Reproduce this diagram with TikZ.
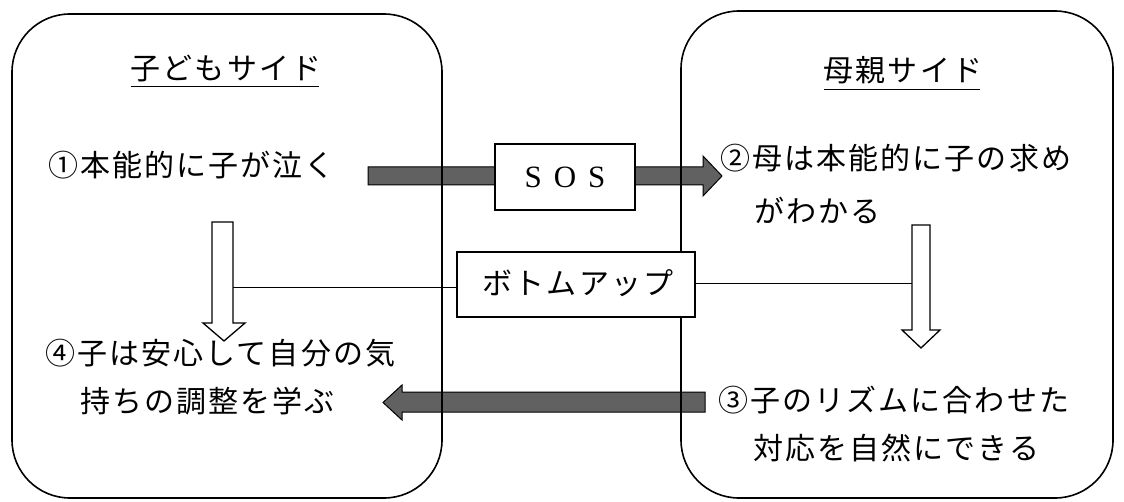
\documentclass[tikz,border=0pt]{standalone}
\usepackage{fontspec}
\newfontfamily\jp[LetterSpace=7]{Noto Sans CJK JP}
\newfontfamily\lat{Liberation Serif}
\tikzset{
  jp/.style={font=\jp\fontsize{30}{34}\selectfont, inner sep=0pt, text height=26.4pt, text depth=3.6pt},
  bigbox/.style={draw, line width=1.6pt, rounded corners=58pt, inner sep=0pt},
  labbox/.style={draw, line width=1.2pt, fill=white, inner sep=0pt},
  fatarrow/.style={draw, line width=1pt, fill=black!62},
  hollowarrow/.style={draw, line width=1.3pt, fill=white},
  thinline/.style={line width=0.9pt}
}
\begin{document}
\begin{tikzpicture}[x=1pt,y=-1pt]
\useasboundingbox (0,0) rectangle (1124,502);
% fat arrows (behind)
\draw[fatarrow] (368,167) -- (703,167) -- (703,156) -- (722,176) -- (703,196) -- (703,185) -- (368,185) -- cycle;
\draw[fatarrow] (705,392) -- (402,392) -- (402,385) -- (383,402.5) -- (402,420) -- (402,412) -- (705,412) -- cycle;
% big rounded boxes
\node[bigbox, minimum width=430pt, minimum height=484pt] (L) at (227,256) {};
\node[bigbox, minimum width=432pt, minimum height=487pt] (R) at (897,254.5) {};
% hollow arrows
\draw[hollowarrow] (212,222) -- (233,222) -- (233,323) -- (245,323) -- (224,341) -- (203,323) -- (212,323) -- cycle;
\draw[hollowarrow] (912,225) -- (930,225) -- (930,330) -- (940,330) -- (921,348) -- (902,330) -- (912,330) -- cycle;
\coordinate (la) at (233,287);
\coordinate (ra) at (912,283);
% label boxes
\node[labbox, minimum width=140pt, minimum height=66pt, font=\lat\fontsize{31}{36}\selectfont] (sos) at (565,177) {S\hspace{12pt}O\hspace{12pt}S};
\node[labbox, minimum width=238pt, minimum height=65pt] (bu) at (576,284.5) {};
\node[jp] (but) at (578,283.5) {ボトムアップ};
\draw[thinline] (la) -- (la -| bu.west);
\draw[thinline] (ra -| bu.east) -- (ra);
% titles
\node[jp] (Lt) at (226,68) {子どもサイド};
\node[jp] (Rt) at (903,70) {母親サイド};
\draw[line width=1.2pt] ([yshift=-3pt]Lt.south west) -- ([yshift=-3pt,xshift=-2pt]Lt.south east);
\draw[line width=1.2pt] ([yshift=-4pt]Rt.south west) -- ([yshift=-4pt,xshift=-2pt]Rt.south east);
% texts
\node[jp, anchor=west] (t1) at (48,165) {①本能的に子が泣く};
\node[jp, anchor=west] (t2a) at (720,158) {②母は本能的に子の求め};
\node[jp, anchor=west] (t2b) at (754,211) {がわかる};
\node[jp, anchor=west] (t3a) at (718,400) {③子のリズムに合わせた};
\node[jp, anchor=west] (t3b) at (753,448) {対応を自然にできる};
\node[jp, anchor=west] (t4a) at (45,353) {④子は安心して自分の気};
\node[jp, anchor=west] (t4b) at (80,401) {持ちの調整を学ぶ};
\end{tikzpicture}
\end{document}
